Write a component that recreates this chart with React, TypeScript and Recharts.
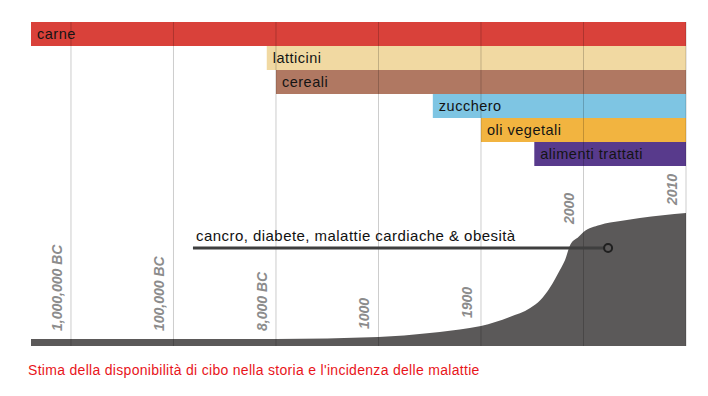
import React from "react";
import {
  BarChart,
  Bar,
  Cell,
  LabelList,
  ComposedChart,
  Area,
  Scatter,
  XAxis,
  YAxis,
  ReferenceLine,
  ReferenceArea,
  ReferenceDot,
} from "recharts";

// timeline positions: 0 = 1,000,000 BC ... 6 = 2010
const tickLabels = ["1,000,000 BC", "100,000 BC", "8,000 BC", "1000", "1900", "2000", "2010"];
const tickPos = [0, 1, 2, 3, 4, 5, 6];

const foods = ["carne", "latticini", "cereali", "zucchero", "oli vegetali", "alimenti trattati"];
const foodStart = [-0.39, 1.91, 2.0, 3.53, 4.0, 4.52];
const foodEnd = [6, 6, 6, 6, 6, 6];
const foodColors = ["#d9413a", "#f1d9a2", "#b07862", "#7ec5e3", "#f2b440", "#583a8c"];

// disease incidence (relative), read along the timeline
const curvePos = [-0.39, 0, 1, 2, 3, 3.5, 3.89, 4, 4.28, 4.48, 4.58, 4.67, 4.77, 4.82, 4.87, 4.95, 5, 5.16, 5.36, 5.55, 6];
const curveValue = [7, 7, 7, 7, 9, 13, 18, 20, 29, 38, 46, 58, 76, 86, 101, 109, 114, 121, 125, 128, 133];

const annotation = "cancro, diabete, malattie cardiache & obesità";
const caption = "Stima della disponibilità di cibo nella storia e l'incidenza delle malattie";

const barData = foods.map((name, i) => ({ name, start: foodStart[i], end: foodEnd[i] }));
const curveData = curvePos.map((pos, i) => ({ pos, incidence: curveValue[i] }));
const tickData = tickPos.map((pos, i) => ({
  pos,
  incidence: curveValue[curvePos.indexOf(pos)],
  label: tickLabels[i],
}));

const FONT = "'Liberation Sans', Arial, sans-serif";
const GRID = "rgba(0,0,0,0.2)";
const DOMAIN: [number, number] = [-0.39, 6];
const MARGIN = { top: 0, right: 22, bottom: 0, left: 31 };

const TickText = (props: any) => {
  const { cx, cy, payload } = props;
  const x = cx - 9;
  const y = cy - 8;
  return (
    <text
      x={x}
      y={y}
      transform={`rotate(-90 ${x} ${y})`}
      fontFamily={FONT}
      fontSize={14}
      fontWeight="bold"
      fontStyle="italic"
      fill="#8c8c8c"
    >
      {payload.label}
    </text>
  );
};

export default function App() {
  return (
    <div style={{ position: "absolute", left: 0, top: 0, width: 708, height: 396, background: "#fff" }}>
      <div style={{ position: "absolute", left: 0, top: 0 }}>
        <BarChart
          width={708}
          height={166}
          data={barData}
          layout="vertical"
          barCategoryGap={0}
          margin={{ ...MARGIN, top: 22 }}
        >
          <XAxis type="number" domain={DOMAIN} allowDataOverflow hide />
          <YAxis type="category" dataKey="name" hide />
          <Bar dataKey={(d: any) => [d.start, d.end]} isAnimationActive={false}>
            {barData.map((d, i) => (
              <Cell key={d.name} fill={foodColors[i]} />
            ))}
            <LabelList
              dataKey="name"
              content={(p: any) => (
                <text
                  x={p.x + 6}
                  y={p.y + p.height / 2 + 5}
                  fontFamily={FONT}
                  fontSize={14.5}
                  letterSpacing={0.5}
                  fill="#141414"
                >
                  {p.value}
                </text>
              )}
            />
          </Bar>
          {tickPos.map((p) => (
            <ReferenceLine key={p} x={p} stroke={GRID} strokeWidth={1} />
          ))}
        </BarChart>
      </div>
      <div style={{ position: "absolute", left: 0, top: 166 }}>
        <ComposedChart width={708} height={180} data={curveData} margin={MARGIN}>
          <XAxis type="number" dataKey="pos" domain={DOMAIN} allowDataOverflow hide />
          <YAxis type="number" domain={[0, 180]} hide />
          <Area
            type="monotone"
            dataKey="incidence"
            stroke="none"
            fill="#5b5959"
            fillOpacity={1}
            isAnimationActive={false}
          />
          {tickPos.map((p) => (
            <ReferenceLine key={p} x={p} stroke={GRID} strokeWidth={1} />
          ))}
          <ReferenceArea x1={1.16} x2={4.38} y1={88} y2={126} fill="#fff" fillOpacity={1} stroke="none" />
          <ReferenceLine
            segment={[
              { x: 1.19, y: 98 },
              { x: 5.2, y: 98 },
            ]}
            stroke="#3f3f3f"
            strokeWidth={3}
          />
          <ReferenceDot x={5.24} y={98} r={4} fill="#5b5959" stroke="#1f1f1f" strokeWidth={2} />
          <ReferenceDot
            x={1.22}
            y={98}
            r={0}
            shape={(p: any) => (
              <text
                x={p.cx}
                y={p.cy - 7}
                fontFamily={FONT}
                fontSize={15}
                letterSpacing={0.45}
                fill="#111"
              >
                {annotation}
              </text>
            )}
          />
          <Scatter data={tickData} dataKey="incidence" shape={TickText} isAnimationActive={false} />
        </ComposedChart>
      </div>
      <div
        style={{
          position: "absolute",
          left: 28,
          top: 363,
          fontFamily: FONT,
          fontSize: 14,
          letterSpacing: "0.3px",
          lineHeight: "15px",
          color: "#e8151b",
          whiteSpace: "nowrap",
        }}
      >
        {caption}
      </div>
    </div>
  );
}
